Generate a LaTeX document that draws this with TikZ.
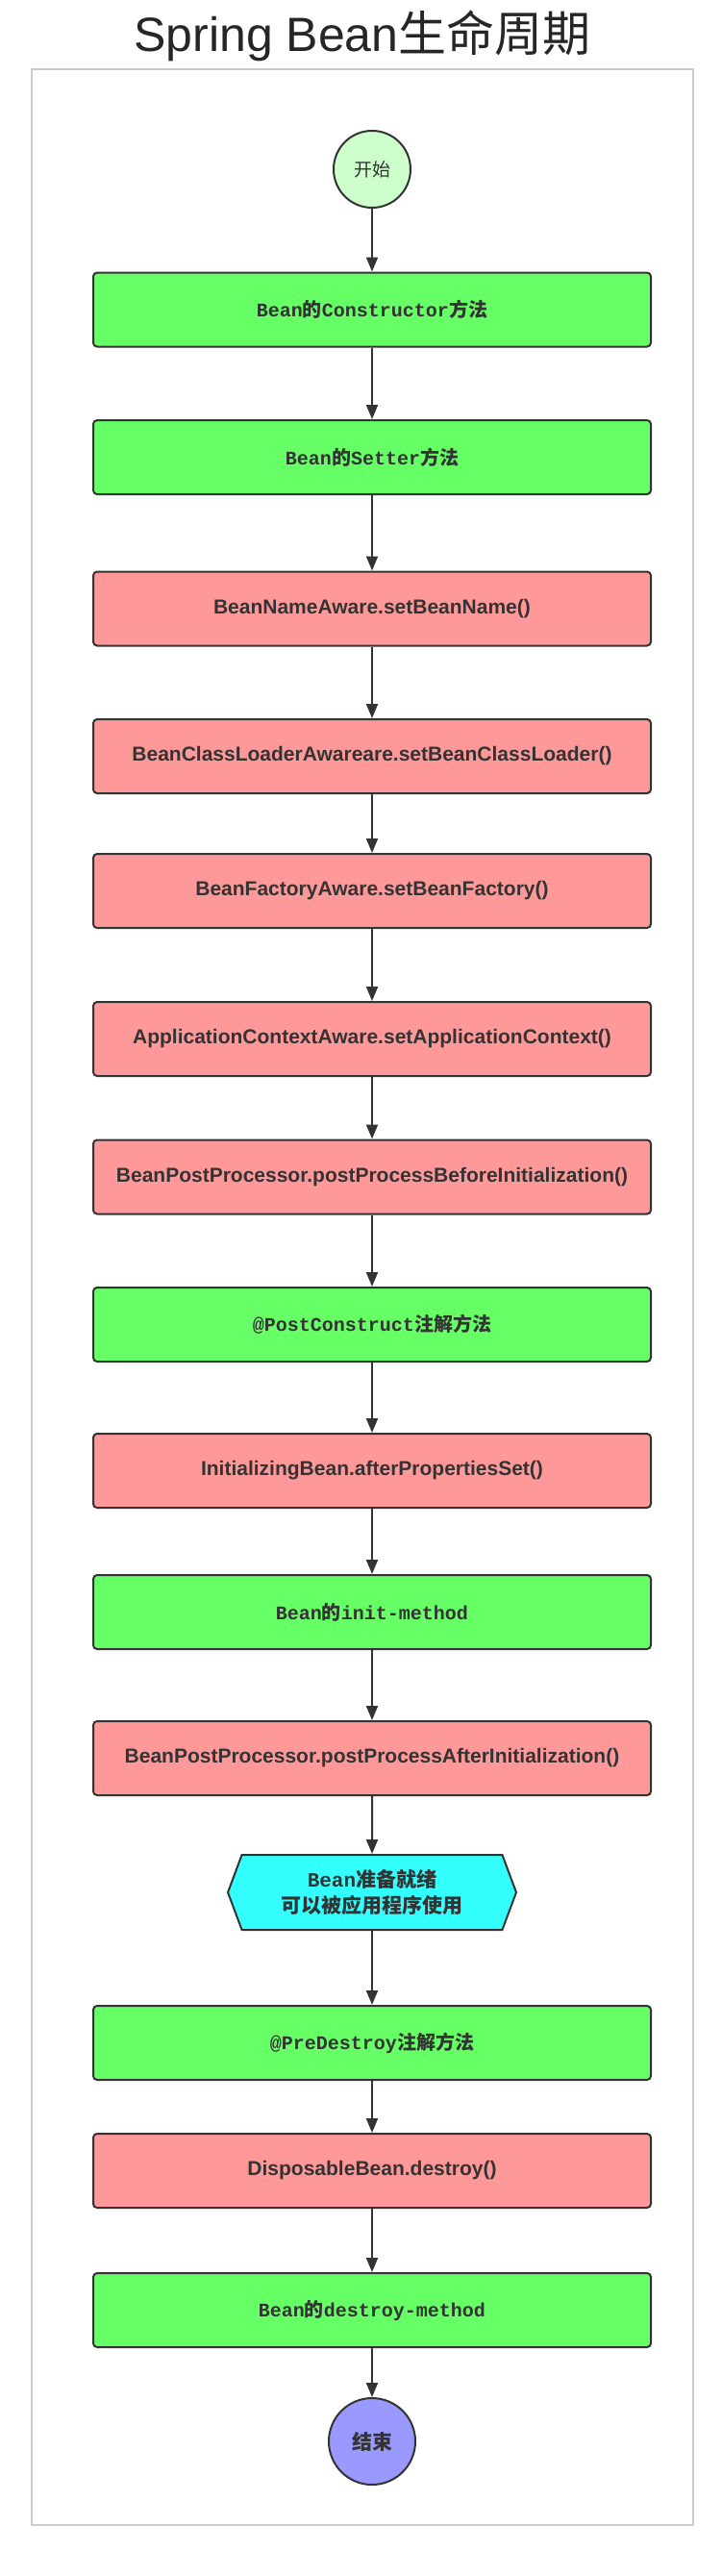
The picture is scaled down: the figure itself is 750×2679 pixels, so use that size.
\documentclass[tikz,border=0pt]{standalone}
\usepackage{fontspec}
\setmainfont{Liberation Sans}
\newfontfamily\cjk{Noto Sans CJK SC}
\newfontfamily\codefont{Liberation Mono}
\usetikzlibrary{arrows.meta, positioning, shapes.symbols}
\definecolor{methodgreen}{HTML}{66FF66}
\definecolor{awarered}{HTML}{FF9999}
\definecolor{readycyan}{HTML}{33FFFF}
\definecolor{startgreen}{HTML}{CCFFCC}
\definecolor{finishblue}{HTML}{9999FF}
\definecolor{flowborder}{HTML}{333333}
\definecolor{framegray}{HTML}{CCCCCC}

\begin{document}
\begin{tikzpicture}[
      x=1pt, y=1pt,
      phase/.style={draw=flowborder, line width=2pt, rounded corners=4pt,
        minimum width=580pt, minimum height=77pt, align=center,
        text=flowborder},
      method/.style={phase, fill=methodgreen,
        font=\codefont\bfseries\fontsize{20}{24}\selectfont},
      callback/.style={phase, fill=awarered,
        font=\bfseries\fontsize{21}{25}\selectfont},
      terminal/.style={circle, draw=flowborder, line width=2pt,
        text=flowborder},
      >={Triangle[length=15pt, width=12pt]}
    ]
      \path[use as bounding box] (0,0) rectangle (750,-2679);
      \draw[framegray, line width=2pt] (32.5,-72) rectangle (721,-2626);
      \node[font=\fontsize{50}{60}\selectfont, text=black!85] (title)
        at (377,-37) {Spring Bean{\cjk 生命周期}};

      \node[terminal, fill=startgreen, minimum size=80pt,
        font=\cjk\fontsize{19}{22}\selectfont] (start) at (387,-176) {开始};
      \node[method, below=65.5pt of start] (ctor)
        {Bean{\cjk 的}Constructor{\cjk 方法}};
      \node[method, below=74.5pt of ctor] (setter)
        {Bean{\cjk 的}Setter{\cjk 方法}};
      \node[callback, below=78.5pt of setter] (nameaware)
        {BeanNameAware.setBeanName()};
      \node[callback, below=74.5pt of nameaware] (loaderaware)
        {BeanClassLoaderAwareare.setBeanClassLoader()};
      \node[callback, below=61pt of loaderaware] (factoryaware)
        {BeanFactoryAware.setBeanFactory()};
      \node[callback, below=75pt of factoryaware] (contextaware)
        {ApplicationContextAware.setApplicationContext()};
      \node[callback, below=64.5pt of contextaware] (beforeinit)
        {BeanPostProcessor.postProcessBeforeInitialization()};
      \node[method, below=74.5pt of beforeinit] (postconstruct)
        {@PostConstruct{\cjk 注解方法}};
      \node[callback, below=73pt of postconstruct] (afterprops)
        {InitializingBean.afterPropertiesSet()};
      \node[method, below=68pt of afterprops] (initmethod)
        {Bean{\cjk 的}init-method};
      \node[callback, below=73pt of initmethod] (afterinit)
        {BeanPostProcessor.postProcessAfterInitialization()};
      \node[signal, signal to=west and east, signal pointer angle=139,
        draw=flowborder, line width=2pt, fill=readycyan, text=flowborder,
        minimum width=300pt, minimum height=78pt, inner xsep=0pt,
        align=center, font=\codefont\bfseries\fontsize{21}{27}\selectfont,
        below=60pt of afterinit] (ready)
        {Bean{\cjk 准备就绪}\\{\cjk 可以被应用程序使用}};
      \node[method, below=77pt of ready] (predestroy)
        {@PreDestroy{\cjk 注解方法}};
      \node[callback, below=54pt of predestroy] (disposable)
        {DisposableBean.destroy()};
      \node[method, below=66pt of disposable] (destroymethod)
        {Bean{\cjk 的}destroy-method};
      \node[terminal, fill=finishblue, minimum size=90pt,
        font=\cjk\bfseries\fontsize{21}{24}\selectfont,
        below=51pt of destroymethod] (finish) {结束};

      \draw[->, flowborder, line width=2pt] (start) -- (ctor);
      \draw[->, flowborder, line width=2pt] (ctor) -- (setter);
      \draw[->, flowborder, line width=2pt] (setter) -- (nameaware);
      \draw[->, flowborder, line width=2pt] (nameaware) -- (loaderaware);
      \draw[->, flowborder, line width=2pt] (loaderaware) -- (factoryaware);
      \draw[->, flowborder, line width=2pt] (factoryaware) -- (contextaware);
      \draw[->, flowborder, line width=2pt] (contextaware) -- (beforeinit);
      \draw[->, flowborder, line width=2pt] (beforeinit) -- (postconstruct);
      \draw[->, flowborder, line width=2pt] (postconstruct) -- (afterprops);
      \draw[->, flowborder, line width=2pt] (afterprops) -- (initmethod);
      \draw[->, flowborder, line width=2pt] (initmethod) -- (afterinit);
      \draw[->, flowborder, line width=2pt] (afterinit) -- (ready);
      \draw[->, flowborder, line width=2pt] (ready) -- (predestroy);
      \draw[->, flowborder, line width=2pt] (predestroy) -- (disposable);
      \draw[->, flowborder, line width=2pt] (disposable) -- (destroymethod);
      \draw[->, flowborder, line width=2pt] (destroymethod) -- (finish);
    \end{tikzpicture}
\end{document}
